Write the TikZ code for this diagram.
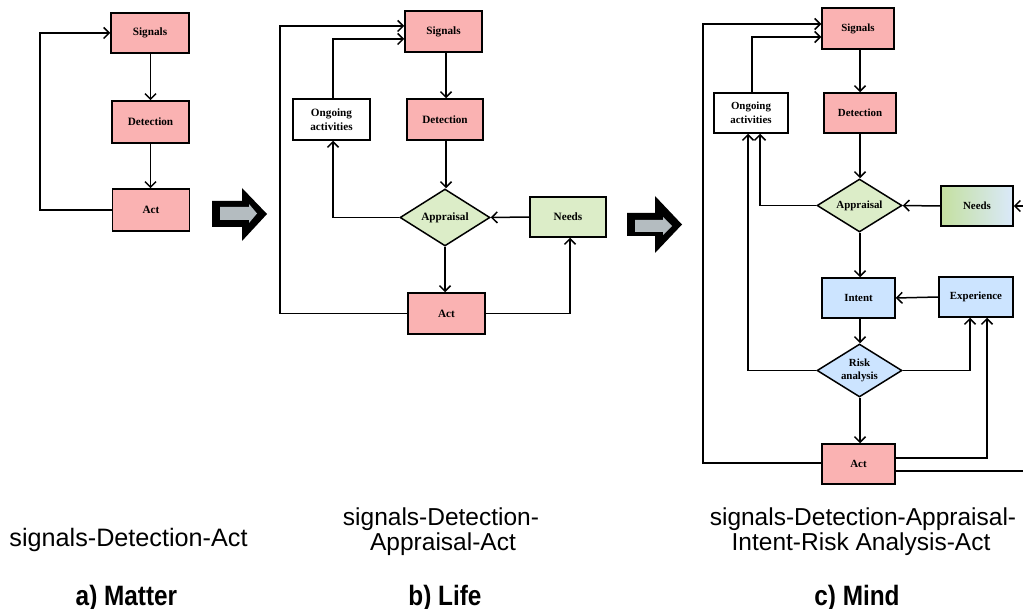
\documentclass[tikz,border=0pt]{standalone}
\usepackage{graphicx}
\usepackage{fontspec}
\setmainfont{Liberation Sans}
\newfontfamily\nodefont{Liberation Serif}
\usetikzlibrary{arrows.meta,shapes.geometric,calc}
\definecolor{pinkc}{RGB}{250,178,178}
\definecolor{greenc}{RGB}{220,237,200}
\definecolor{bluec}{RGB}{204,228,255}
\definecolor{needl}{RGB}{196,224,160}
\definecolor{needr}{RGB}{218,233,250}
\definecolor{arrgrey}{RGB}{180,188,192}
\newcommand{\narrowtitle}[1]{\scalebox{0.87}[1]{#1}}
\begin{document}
\begin{tikzpicture}[x=1pt,y=-1pt,
  box/.style={draw=black, line width=1.5pt, inner sep=0pt, align=center,
    font=\nodefont\bfseries\fontsize{11.2}{14}\selectfont},
  cbox/.style={box, font=\nodefont\bfseries\fontsize{10.9}{13.7}\selectfont},
  pinkbox/.style={box, fill=pinkc},
  dia/.style={diamond, aspect=1.6},
  arr/.style={draw=black, line width=1.5pt, -{Straight Barb[length=5.5pt,width=11pt]}},
  captxt/.style={font=\fontsize{24.5}{25}\selectfont, anchor=base},
  ttl/.style={font=\bfseries\fontsize{28}{30}\selectfont, anchor=base}
]
\useasboundingbox (0,0) rectangle (1023,609);

% ---------- panel a ----------
\node[pinkbox, minimum width=78pt, minimum height=40pt] (a1) at (150,33) {Signals};
\node[pinkbox, minimum width=77pt, minimum height=42pt] (a2) at (150.5,122) {Detection};
\node[pinkbox, minimum width=77pt, minimum height=42pt] (a3) at (151,210) {Act};
\coordinate (aL) at (40,33);
\draw[arr] ([xshift=0.5pt]a1.south) -- (a2.north);
\draw[arr] (a2.south) -- ([xshift=-0.5pt]a3.north);
\draw[arr] (a3.west) -| (aL) -- (a1.west);

% big arrow 1
\fill[black] (212,201) -- (242,201) -- (242,188) -- (267,214) -- (242,241) -- (242,227) -- (212,227) -- cycle;
\fill[arrgrey] (220,207) -- (249,207) -- (249,204) -- (257,213.5) -- (249,223) -- (249,220) -- (220,220) -- cycle;

% ---------- panel b ----------
\node[pinkbox, minimum width=77pt, minimum height=41pt] (b1) at (443.5,31.5) {Signals};
\node[pinkbox, minimum width=76pt, minimum height=41pt] (b2) at (445,119.5) {Detection};
\node[box, fill=white, minimum width=77pt, minimum height=41pt] (b3) at (331.5,119.5) {Ongoing\\activities};
\node[box, dia, fill=greenc, minimum width=90pt, minimum height=57pt] (b4) at (445,217.5) {Appraisal};
\node[box, fill=greenc, minimum width=76pt, minimum height=40pt] (b5) at (568,217) {Needs};
\node[pinkbox, minimum width=77pt, minimum height=41pt] (b6) at (446.5,313.5) {Act};
\coordinate (bL) at (280,313.5);
\draw[arr] ([xshift=2.5pt]b1.south) -- ([xshift=1pt]b2.north);
\draw[arr] ([xshift=1pt]b2.south) -- ([xshift=1pt]b4.north);
\draw[arr] (b4.south) -- ([xshift=-1.5pt]b6.north);
\draw[arr] (b5.west) -- (b4.east);
\draw[arr] (b4.west) -| ([xshift=1.5pt]b3.south);
\draw[arr] ([xshift=1.5pt]b3.north) |- ([yshift=-7.5pt]b1.west);
\draw[arr] (b6.west) -- (bL) |- ([yshift=5.5pt]b1.west);
\draw[arr] (b6.east) -| ([xshift=2pt]b5.south);

% big arrow 2
\fill[black] (627,213) -- (655,213) -- (655,196) -- (682,224.5) -- (655,253) -- (655,236) -- (627,236) -- cycle;
\fill[arrgrey] (635,220) -- (663,220) -- (663,217) -- (672,226) -- (663,235) -- (663,232) -- (635,232) -- cycle;

% ---------- panel c ----------
\node[cbox, fill=pinkc, minimum width=72pt, minimum height=41pt] (c1) at (858,28.5) {Signals};
\node[cbox, fill=pinkc, minimum width=72pt, minimum height=40pt] (c2) at (860,113) {Detection};
\node[cbox, fill=white, minimum width=74pt, minimum height=40pt] (c3) at (751,113) {Ongoing\\activities};
\node[cbox, dia, fill=greenc, minimum width=85pt, minimum height=53pt] (c4) at (859.5,205.5) {Appraisal};
\node[cbox, left color=needl, right color=needr, minimum width=72pt, minimum height=40pt] (c5) at (977,206) {Needs};
\node[cbox, fill=bluec, minimum width=73pt, minimum height=40pt] (c6) at (858.5,298) {Intent};
\node[cbox, fill=bluec, minimum width=74pt, minimum height=40pt] (c7) at (976,297) {Experience};
\node[cbox, dia, fill=bluec, minimum width=85pt, minimum height=53pt] (c8) at (859.5,370.5) {Risk\\analysis};
\node[cbox, fill=pinkc, minimum width=73pt, minimum height=40pt] (c9) at (858.5,464) {Act};
\coordinate (cL) at (703,463);
\coordinate (cR) at (1030,471);
\draw[arr] ([xshift=2pt]c1.south) -- (c2.north);
\draw[arr] (c2.south) -- ([xshift=0.5pt]c4.north);
\draw[arr] ([xshift=0.5pt]c4.south) -- ([xshift=1.5pt]c6.north);
\draw[arr] ([xshift=1.5pt]c6.south) -- ([xshift=0.5pt]c8.north);
\draw[arr] ([xshift=0.5pt]c8.south) -- ([xshift=1.5pt]c9.north);
\draw[arr] (c5.west) -- (c4.east);
\draw[arr] (c7.west) -- (c6.east);
\draw[arr] (c4.west) -| ([xshift=9pt]c3.south);
\draw[arr] (c8.west) -| ([xshift=-3pt]c3.south);
\draw[arr] ([xshift=1pt]c3.north) |- ([yshift=-8.5pt]c1.west);
\draw[arr] ([yshift=1pt]c9.west) -- (cL) |- ([yshift=4.5pt]c1.west);
\draw[arr] (c8.east) -| ([xshift=-6pt]c7.south);
\draw[arr] ([yshift=6pt]c9.east) -| ([xshift=11pt]c7.south);
\draw[arr] ([yshift=-7pt]c9.east) -- (cR) |- (c5.east);

% ---------- captions ----------
\node[captxt, font=\fontsize{25.2}{25}\selectfont] (capa) at (128.5,546) {signals-Detection-Act};
\node[captxt] (capb1) at (441,525) {signals-Detection-};
\node[captxt] (capb2) at (443,550) {Appraisal-Act};
\node[captxt] (capc1) at (863,525) {signals-Detection-Appraisal-};
\node[captxt] (capc2) at (861,550) {Intent-Risk Analysis-Act};
\node[ttl] (ta) at (126.5,605) {\narrowtitle{a) Matter}};
\node[ttl] (tb) at (445,605) {\narrowtitle{b) Life}};
\node[ttl] (tc) at (857,605) {\narrowtitle{c) Mind}};
\end{tikzpicture}
\end{document}
